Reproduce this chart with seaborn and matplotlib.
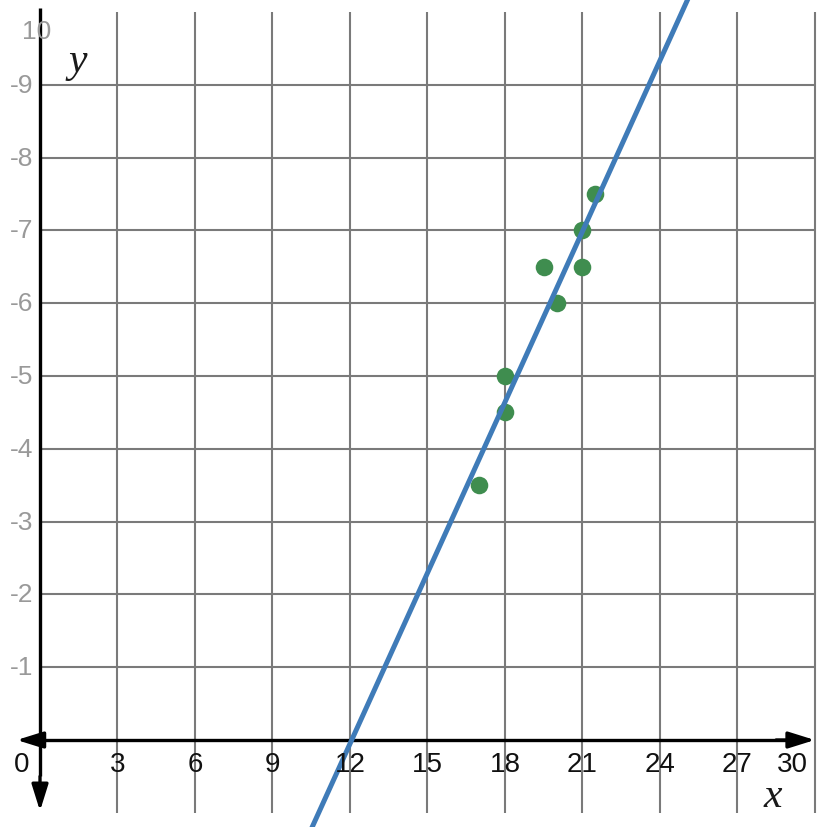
import matplotlib
matplotlib.use("Agg")
import matplotlib.pyplot as plt
import seaborn as sns
import numpy as np
import pandas as pd

# data
x_vals = [17, 18, 18, 19.5, 20, 21, 21, 21.5]
y_vals = [3.5, 4.5, 5, 6.5, 6, 6.5, 7, 7.5]
x_ticks = [0, 3, 6, 9, 12, 15, 18, 21, 24, 27, 30]
y_ticks = [1, 2, 3, 4, 5, 6, 7, 8, 9, 10]

df = pd.DataFrame({"x": x_vals, "y": y_vals})

sns.set_style("white")
plt.rcParams["font.family"] = ["Liberation Sans", "DejaVu Sans"]

fig = plt.figure(figsize=(8.28, 8.28), dpi=100)
ax = fig.add_axes([0, 0, 1, 1])
ax.set_xlim(-1.549, 30.51)
ax.set_ylim(-1.195, 10.18)
ax.axis("off")

grid_c = "#7a7a7a"
# grid
ax.vlines(x_ticks[1:], -1, 10, color=grid_c, lw=1.5, zorder=1)
ax.hlines(y_ticks[:-1], 0, 30, color=grid_c, lw=1.5, zorder=1)

# axes with arrows
ax.plot([0, 29], [0, 0], color="black", lw=2.4, zorder=2, solid_capstyle="butt")
ax.plot([0, 0], [10.05, -0.5], color="black", lw=2.4, zorder=2, solid_capstyle="butt")
head = dict(arrowstyle="-|>,head_length=0.8,head_width=0.25", mutation_scale=20,
            color="black", lw=2.4, shrinkA=0, shrinkB=0)
ax.annotate("", xy=(-0.9, 0), xytext=(0.1, 0), arrowprops=head, zorder=3)
ax.annotate("", xy=(30, 0), xytext=(28.5, 0), arrowprops=head, zorder=3)
ax.annotate("", xy=(0, -0.975), xytext=(0, -0.5), arrowprops=head, zorder=3)

# regression line + points
sns.regplot(data=df, x="x", y="y", ci=None, truncate=False, ax=ax,
            scatter_kws=dict(s=160, color="#3f8d4f", alpha=1, zorder=4, linewidths=0),
            line_kws=dict(color="#3f7bb8", lw=3.6, zorder=5))
ax.set_xlim(-1.549, 30.51)
ax.set_ylim(-1.195, 10.18)
ax.set_xlabel("")
ax.set_ylabel("")

# tick labels
for t in x_ticks:
    xp = t
    if t == 0:
        xp = -0.7
    elif t == 30:
        xp = 29.15
    ax.text(xp, -0.33, str(t), ha="center", va="center", fontsize=20, color="#111111", zorder=6)
for t in y_ticks:
    if t == 10:
        ax.text(-0.15, 9.74, "10", ha="center", va="center", fontsize=19, color="#999999", zorder=6)
    else:
        ax.text(-0.27, t, "-" + str(t), ha="right", va="center", fontsize=19, color="#999999", zorder=6)

ax.text(1.47, 9.19, "y", fontsize=30, style="italic", family="Liberation Serif",
        ha="center", va="baseline", color="#1a1a1a", zorder=6)
ax.text(28.38, -0.907, "x", fontsize=30, style="italic", family="Liberation Serif",
        ha="center", va="baseline", color="#1a1a1a", zorder=6)

fig.savefig("out.png", dpi=100)
